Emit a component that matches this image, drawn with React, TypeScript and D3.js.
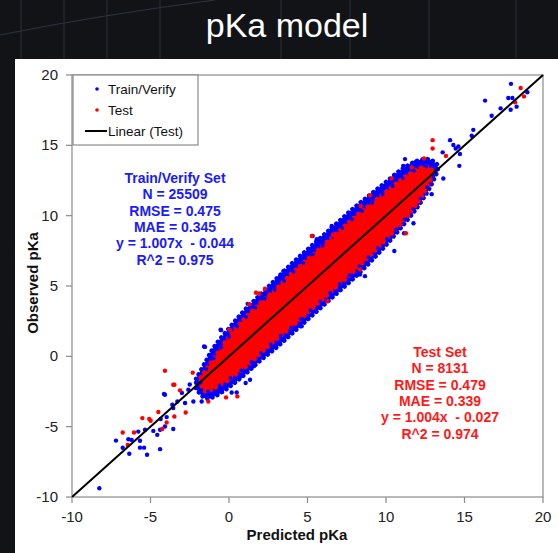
import * as d3 from "d3";

// ---- data ----
const xTicks = [-10, -5, 0, 5, 10, 15, 20];
const yTicks = [-10, -5, 0, 5, 10, 15, 20];

// dense cloud envelopes (predicted, observed low, observed high)
const bluePred = [-2.1, -1.5, -1, 0, 1, 2, 3, 4, 5, 6, 7, 8, 9, 10, 11, 12, 12.8, 13.3];
const blueLo = [-2.3, -3.0, -2.9, -2.2, -1.3, -0.3, 0.6, 1.6, 2.6, 3.6, 4.6, 5.6, 6.7, 7.9, 9.2, 10.6, 12.0, 13.2];
const blueHi = [-1.6, -0.4, 0.6, 2.0, 3.3, 4.4, 5.5, 6.6, 7.6, 8.6, 9.6, 10.6, 11.5, 12.4, 13.3, 13.9, 14.0, 13.6];

const redPred = [-1.8, -1.5, -1, 0, 1, 2, 3, 4, 5, 6, 7, 8, 9, 10, 11, 12, 12.6, 13.0];
const redLo = [-2.0, -2.5, -2.3, -1.6, -0.8, 0.2, 1.2, 2.1, 3.1, 4.1, 5.1, 6.1, 7.2, 8.3, 9.5, 10.9, 12.0, 12.9];
const redHi = [-1.5, -1.0, -0.2, 1.4, 2.7, 3.8, 4.8, 5.9, 6.9, 7.9, 8.9, 9.9, 10.8, 11.7, 12.6, 13.3, 13.5, 13.2];

// scattered points outside the dense cloud [predicted, observed]
const blueOutliers = [
  [-8.26, -9.38], [-7.2, -5.99], [-6.77, -6.5], [-6.35, -6.93], [-6.41, -5.89], [-6.2, -5.94],
  [-5.67, -6.0], [-5.67, -6.49], [-5.41, -6.49], [-5.22, -7.0], [-5.78, -5.35], [-5.35, -5.22],
  [-4.82, -5.3], [-4.39, -6.6], [-4.57, -5.58], [-4.39, -5.22], [-4.08, -4.99], [-4.35, -4.46],
  [-3.97, -4.32], [-3.55, -5.17], [-3.55, -3.68], [-4.08, -2.73], [-4.14, -2.68], [-3.61, -3.44],
  [-3.29, -3.21], [-2.8, -3.32], [-2.59, -2.37], [-2.27, -3.21], [-1.74, -3.21], [-1.63, -2.73],
  [-3.0, -2.6], [-2.5, -2.0], [-1.59, 0.7], [-1.53, 0.67], [-0.53, 1.9], [-0.51, 1.86],
  [0.49, -2.57], [0.17, -2.57], [1.06, -1.9], [1.34, -1.66], [1.59, -0.69], [0.7, -1.47],
  [1.5, 0.24], [1.19, 3.73], [3.25, 5.7], [3.46, 6.06], [4.63, 2.14], [4.1, 2.38], [6.0, 4.4],
  [7.07, 4.75], [8.66, 5.7], [8.34, 5.82], [5.59, 8.32], [6.86, 9.39], [6.54, 9.15], [9.19, 11.65],
  [9.51, 11.29], [10.53, 7.49], [11.15, 8.75], [11.75, 9.46], [7.88, 10.03], [6.54, 9.27],
  [5.33, 8.55], [10.25, 12.31], [11.21, 14.02], [11.1, 13.54], [11.91, 13.83], [12.91, 11.53],
  [13.61, 14.5], [13.65, 12.64], [14.08, 15.37], [14.29, 15.02], [14.44, 14.78], [14.61, 14.92],
  [14.71, 14.38], [14.67, 13.54], [15.56, 16.1], [15.46, 15.68], [16.31, 18.18], [16.73, 17.1],
  [17.3, 17.63], [17.94, 17.53], [17.79, 18.37], [18.05, 18.37], [18.32, 17.75], [17.96, 19.37],
  [19.0, 18.77],
];

const redOutliers = [
  [-6.77, -5.42], [-6.45, -6.3], [-6.05, -5.42], [-5.52, -4.39], [-5.08, -4.46], [-4.99, -4.58],
  [-4.25, -5.17], [-4.5, -3.96], [-3.97, -4.7], [-3.48, -4.28], [-3.48, -2.02], [-4.08, -1.02],
  [-2.76, -3.99], [-3.12, -2.42], [-2.31, -1.16], [-1.32, -3.21], [-3.55, -2.02], [-0.08, -1.74],
  [0.53, -2.85], [-0.19, -2.92], [0.02, 1.9], [1.29, 3.7], [1.72, 4.52], [1.93, 4.47], [2.29, 4.8],
  [5.27, 8.55], [6.64, 8.67], [6.64, 8.6], [8.39, 10.69], [8.98, 11.45], [6.26, 3.92], [8.34, 6.18],
  [10.36, 12.64], [11.64, 13.43], [12.42, 14.07], [12.97, 15.37], [12.97, 14.78], [13.82, 14.25],
  [11.27, 8.75], [18.58, 19.08], [18.79, 18.48], [18.22, 18.06],
];

const trendLine = [[-10, -10], [20, 20]];

const trainStats = ["Train/Verify Set", "N = 25509", "RMSE = 0.475", "MAE = 0.345", "y = 1.007x  - 0.044", "R^2 = 0.975"];
const testStats = ["Test Set", "N = 8131", "RMSE = 0.479", "MAE = 0.339", "y = 1.004x  - 0.027", "R^2 = 0.974"];

const bgLinesX = [21, 64, 107, 160, 281, 350, 429, 516];

const BLUE = "#0000ff";
const RED = "#ff0000";
const AXIS = "#8a8a8a";
const FONT = "Arial, 'Liberation Sans', sans-serif";

export default function App() {
  const W = 558, H = 553;
  const left = 72, right = 543, top = 75, bottom = 497;

  const x = d3.scaleLinear().domain([-10, 20]).range([left, right]);
  const y = d3.scaleLinear().domain([-10, 20]).range([bottom, top]);

  const band = (p: number[], lo: number[], hi: number[]) =>
    d3.area<number>()
      .x(i => x(p[i]))
      .y0(i => y(lo[i]))
      .y1(i => y(hi[i]))
      .curve(d3.curveCatmullRom.alpha(0.5))(d3.range(p.length)) || "";

  const bluePath = band(bluePred, blueLo, blueHi);
  const redPath = band(redPred, redLo, redHi);
  const line = d3.line<number[]>().x(d => x(d[0])).y(d => y(d[1]))(trendLine) || "";

  return (
    <svg width={W} height={H} style={{ position: "absolute", left: 0, top: 0, background: "#121317" }} fontFamily={FONT}>
      {/* slide background */}
      <rect width={W} height={H} fill="#121317" />
      {bgLinesX.map(v => (
        <line key={v} x1={v} x2={v} y1={0} y2={60} stroke="#26303b" strokeWidth={1} />
      ))}
      <path d="M0,35 Q100,15 215,0" stroke="#2c3440" fill="none" />
      <text x={287} y={37} fill="#fff" fontSize={34} textAnchor="middle">pKa model</text>

      {/* white chart panel */}
      <rect x={15} y={59} width={W - 15} height={H - 59} fill="#fff" />

      {/* frame */}
      <rect x={left} y={top} width={right - left} height={bottom - top} fill="none" stroke={AXIS} strokeWidth={1.2} />

      {/* cloud */}
      <path d={bluePath} fill={BLUE} stroke={BLUE} strokeWidth={4.4} strokeLinecap="round" strokeDasharray="0.1 5.3" />
      {blueOutliers.map((d, i) => (
        <circle key={"b" + i} cx={x(d[0])} cy={y(d[1])} r={2.2} fill={BLUE} />
      ))}
      <path d={redPath} fill={RED} stroke={RED} strokeWidth={4.4} strokeLinecap="round" strokeDasharray="0.1 5.9" />
      <path d={redPath} fill="none" stroke={BLUE} strokeWidth={3.6} strokeLinecap="round" strokeDasharray="0.1 13" strokeDashoffset={3} />
      {redOutliers.map((d, i) => (
        <circle key={"r" + i} cx={x(d[0])} cy={y(d[1])} r={2.2} fill={RED} />
      ))}
      <path d={line} stroke="#000" strokeWidth={2} fill="none" />

      {/* axes */}
      {yTicks.map(t => (
        <g key={"y" + t}>
          <line x1={left - 6} x2={left} y1={y(t)} y2={y(t)} stroke={AXIS} strokeWidth={1.2} />
          <text x={58} y={y(t) + 5} fontSize={15} fill="#222" textAnchor="end">{t}</text>
        </g>
      ))}
      {xTicks.map(t => (
        <g key={"x" + t}>
          <line x1={x(t)} x2={x(t)} y1={bottom} y2={bottom + 6} stroke={AXIS} strokeWidth={1.2} />
          <text x={x(t)} y={522} fontSize={15} fill="#222" textAnchor="middle">{t}</text>
        </g>
      ))}
      <text x={297} y={540} fontSize={15} fontWeight="bold" fill="#111" textAnchor="middle">Predicted pKa</text>
      <text transform="translate(38,283) rotate(-90)" fontSize={15} fontWeight="bold" fill="#111" textAnchor="middle">Observed pKa</text>

      {/* legend */}
      <rect x={73} y={top} width={125} height={70} fill="#fff" stroke={AXIS} strokeWidth={1.2} />
      <circle cx={97} cy={89} r={1.8} fill={BLUE} />
      <text x={108} y={94} fontSize={13.5} fill="#111">Train/Verify</text>
      <circle cx={97} cy={110} r={1.8} fill={RED} />
      <text x={108} y={115} fontSize={13.5} fill="#111">Test</text>
      <line x1={85} x2={107} y1={131} y2={131} stroke="#000" strokeWidth={2} />
      <text x={108} y={136} fontSize={13.5} fill="#111">Linear (Test)</text>

      {/* stats */}
      {trainStats.map((s, i) => (
        <text key={"ts" + i} x={175} y={183 + i * 16.3} fontSize={14} fontWeight="bold" fill="#1a1aff" textAnchor="middle" xmlSpace="preserve">{s}</text>
      ))}
      {testStats.map((s, i) => (
        <text key={"es" + i} x={440} y={357 + i * 16.3} fontSize={14} fontWeight="bold" fill="#ff1a1a" textAnchor="middle" xmlSpace="preserve">{s}</text>
      ))}
    </svg>
  );
}
